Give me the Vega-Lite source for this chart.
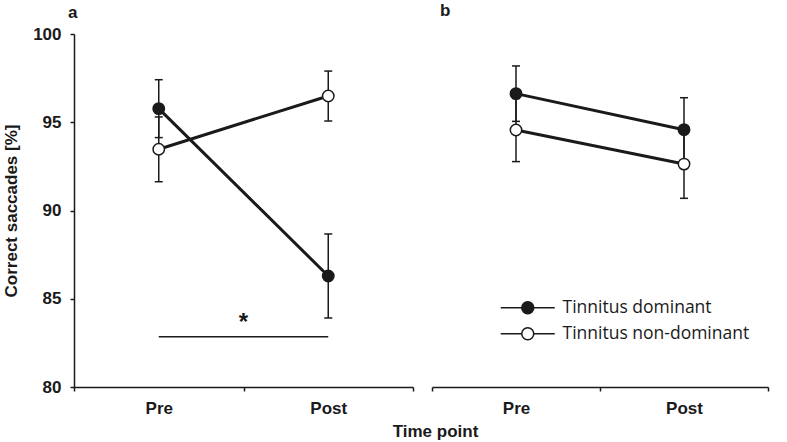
{
  "$schema": "https://vega.github.io/schema/vega-lite/v6.json",
  "background": "white",
  "padding": {"left": 2, "top": 2, "right": 15, "bottom": 4},
  "datasets": {
    "means": [
      {"panel": "a", "group": "Tinnitus dominant", "time": "Pre", "mean": 95.77, "lo": 94.13, "hi": 97.41},
      {"panel": "a", "group": "Tinnitus dominant", "time": "Post", "mean": 86.29, "lo": 83.91, "hi": 88.67},
      {"panel": "a", "group": "Tinnitus non-dominant", "time": "Pre", "mean": 93.47, "lo": 91.63, "hi": 95.30},
      {"panel": "a", "group": "Tinnitus non-dominant", "time": "Post", "mean": 96.49, "lo": 95.07, "hi": 97.90},
      {"panel": "b", "group": "Tinnitus dominant", "time": "Pre", "mean": 96.62, "lo": 95.05, "hi": 98.19},
      {"panel": "b", "group": "Tinnitus dominant", "time": "Post", "mean": 94.58, "lo": 92.77, "hi": 96.39},
      {"panel": "b", "group": "Tinnitus non-dominant", "time": "Pre", "mean": 94.56, "lo": 92.77, "hi": 96.35},
      {"panel": "b", "group": "Tinnitus non-dominant", "time": "Post", "mean": 92.63, "lo": 90.69, "hi": 94.57}
    ],
    "sig": [
      {"time": "Pre", "time2": "Post", "level": 82.85, "starLevel": 83.6, "label": "*"}
    ]
  },
  "spacing": 19,
  "bounds": "flush",
  "hconcat": [
    {
      "width": 339,
      "height": 353,
      "title": {"text": "a", "anchor": "start", "frame": "group", "dx": -6, "offset": -10, "baseline": "alphabetic", "fontSize": 17, "fontWeight": "bold", "font": "Liberation Sans", "color": "#1a1a1a"},
      "encoding": {
        "x": {
          "field": "time", "type": "ordinal",
          "scale": {"type": "band", "domain": ["Pre", "Post"], "paddingInner": 0, "paddingOuter": 0},
          "axis": {"title": "Time point", "labelAngle": 0, "tickBand": "extent", "titleX": 361, "titleY": 49, "titleBaseline": "alphabetic", "titleAlign": "center", "titleAnchor": null}
        }
      },
      "layer": [
        {
          "data": {"name": "means"},
          "transform": [{"filter": "datum.panel == 'a'"}],
          "mark": {"type": "rule", "color": "#1a1a1a", "strokeWidth": 1.5},
          "encoding": {
            "y": {"field": "lo", "type": "quantitative", "scale": {"domain": [80, 100], "zero": false, "nice": false},
              "axis": {"title": "Correct saccades [%]", "values": [80, 85, 90, 95, 100], "titleX": -58, "titleY": 176.5, "titleAngle": -90, "titleBaseline": "alphabetic", "titleAlign": "center", "titleAnchor": null}},
            "y2": {"field": "hi"}
          }
        },
        {
          "data": {"name": "means"},
          "transform": [{"filter": "datum.panel == 'a'"}],
          "mark": {"type": "tick", "orient": "horizontal", "color": "#1a1a1a", "size": 8, "thickness": 1.5, "opacity": 1},
          "encoding": {
            "y": {"field": "lo", "type": "quantitative", "scale": {"domain": [80, 100], "zero": false, "nice": false}}
          }
        },
        {
          "data": {"name": "means"},
          "transform": [{"filter": "datum.panel == 'a'"}],
          "mark": {"type": "tick", "orient": "horizontal", "color": "#1a1a1a", "size": 8, "thickness": 1.5, "opacity": 1},
          "encoding": {
            "y": {"field": "hi", "type": "quantitative", "scale": {"domain": [80, 100], "zero": false, "nice": false}}
          }
        },
        {
          "data": {"name": "means"},
          "transform": [{"filter": "datum.panel == 'a'"}],
          "mark": {"type": "line", "color": "#1a1a1a", "strokeWidth": 3},
          "encoding": {
            "y": {"field": "mean", "type": "quantitative", "scale": {"domain": [80, 100], "zero": false, "nice": false}},
            "detail": {"field": "group", "type": "nominal"}
          }
        },
        {
          "data": {"name": "means"},
          "transform": [{"filter": "datum.panel == 'a'"}],
          "mark": {"type": "point", "shape": "circle", "filled": true, "size": 130, "stroke": "#1a1a1a", "strokeWidth": 1.5, "opacity": 1},
          "encoding": {
            "y": {"field": "mean", "type": "quantitative", "scale": {"domain": [80, 100], "zero": false, "nice": false}},
            "fill": {"field": "group", "type": "nominal",
              "scale": {"domain": ["Tinnitus dominant", "Tinnitus non-dominant"], "range": ["#1a1a1a", "#ffffff"]},
              "legend": {"title": null, "orient": "none", "legendX": 445, "legendY": 265, "padding": 0,
                "symbolType": "M-4.5,0H-1A1,1 0 1,1 1,0A1,1 0 1,1 -1,0M1,0H4.5",
                "symbolSize": 144, "symbolStrokeColor": "#1a1a1a", "symbolStrokeWidth": 1.5, "symbolOpacity": 1,
                "labelFont": "Open Sans", "labelFontSize": 17.5, "labelLimit": 0, "labelColor": "#1a1a1a", "labelOffset": 26, "rowPadding": 7}}
          }
        },
        {
          "data": {"name": "sig"},
          "mark": {"type": "rule", "color": "#1a1a1a", "strokeWidth": 1.5},
          "encoding": {
            "x": {"field": "time", "type": "ordinal"},
            "x2": {"field": "time2"},
            "y": {"field": "level", "type": "quantitative", "scale": {"domain": [80, 100], "zero": false, "nice": false}}
          }
        },
        {
          "data": {"name": "sig"},
          "mark": {"type": "text", "font": "Liberation Sans", "fontWeight": "bold", "fontSize": 24, "color": "#1a1a1a", "baseline": "middle", "align": "center"},
          "encoding": {
            "x": {"field": "time", "type": "ordinal", "bandPosition": 1},
            "y": {"field": "starLevel", "type": "quantitative", "scale": {"domain": [80, 100], "zero": false, "nice": false}},
            "text": {"field": "label"}
          }
        }
      ]
    },
    {
      "width": 336,
      "height": 353,
      "title": {"text": "b", "anchor": "start", "frame": "group", "dx": 8, "offset": 1, "baseline": "alphabetic", "fontSize": 17, "fontWeight": "bold", "font": "Liberation Sans", "color": "#1a1a1a"},
      "data": {"name": "means"},
      "transform": [{"filter": "datum.panel == 'b'"}],
      "encoding": {
        "x": {
          "field": "time", "type": "ordinal",
          "scale": {"type": "band", "domain": ["Pre", "Post"], "paddingInner": 0, "paddingOuter": 0},
          "axis": {"title": null, "labelAngle": 0, "tickBand": "extent"}
        }
      },
      "layer": [
        {
          "mark": {"type": "rule", "color": "#1a1a1a", "strokeWidth": 1.5},
          "encoding": {
            "y": {"field": "lo", "type": "quantitative", "scale": {"domain": [80, 100], "zero": false, "nice": false}, "axis": null},
            "y2": {"field": "hi"}
          }
        },
        {
          "mark": {"type": "tick", "orient": "horizontal", "color": "#1a1a1a", "size": 8, "thickness": 1.5, "opacity": 1},
          "encoding": {
            "y": {"field": "lo", "type": "quantitative", "scale": {"domain": [80, 100], "zero": false, "nice": false}, "axis": null}
          }
        },
        {
          "mark": {"type": "tick", "orient": "horizontal", "color": "#1a1a1a", "size": 8, "thickness": 1.5, "opacity": 1},
          "encoding": {
            "y": {"field": "hi", "type": "quantitative", "scale": {"domain": [80, 100], "zero": false, "nice": false}, "axis": null}
          }
        },
        {
          "mark": {"type": "line", "color": "#1a1a1a", "strokeWidth": 3},
          "encoding": {
            "y": {"field": "mean", "type": "quantitative", "scale": {"domain": [80, 100], "zero": false, "nice": false}, "axis": null},
            "detail": {"field": "group", "type": "nominal"}
          }
        },
        {
          "mark": {"type": "point", "shape": "circle", "filled": true, "size": 130, "stroke": "#1a1a1a", "strokeWidth": 1.5, "opacity": 1},
          "encoding": {
            "y": {"field": "mean", "type": "quantitative", "scale": {"domain": [80, 100], "zero": false, "nice": false}, "axis": null},
            "fill": {"field": "group", "type": "nominal",
              "scale": {"domain": ["Tinnitus dominant", "Tinnitus non-dominant"], "range": ["#1a1a1a", "#ffffff"]},
              "legend": {"title": null, "orient": "none", "legendX": 445, "legendY": 265, "padding": 0,
                "symbolType": "M-4.5,0H-1A1,1 0 1,1 1,0A1,1 0 1,1 -1,0M1,0H4.5",
                "symbolSize": 144, "symbolStrokeColor": "#1a1a1a", "symbolStrokeWidth": 1.5, "symbolOpacity": 1,
                "labelFont": "Open Sans", "labelFontSize": 17.5, "labelLimit": 0, "labelColor": "#1a1a1a", "labelOffset": 26, "rowPadding": 7}}
          }
        }
      ]
    }
  ],
  "config": {
    "view": {"stroke": null},
    "font": "Liberation Sans",
    "axis": {
      "grid": false,
      "domainColor": "#1a1a1a", "domainWidth": 1.5,
      "tickColor": "#1a1a1a", "tickWidth": 1.5, "tickSize": 4,
      "labelFont": "Liberation Sans", "labelFontWeight": "bold", "labelFontSize": 17, "labelColor": "#1a1a1a", "labelPadding": 9,
      "titleFont": "Liberation Sans", "titleFontWeight": "bold", "titleFontSize": 17, "titleColor": "#1a1a1a"
    }
  }
}
